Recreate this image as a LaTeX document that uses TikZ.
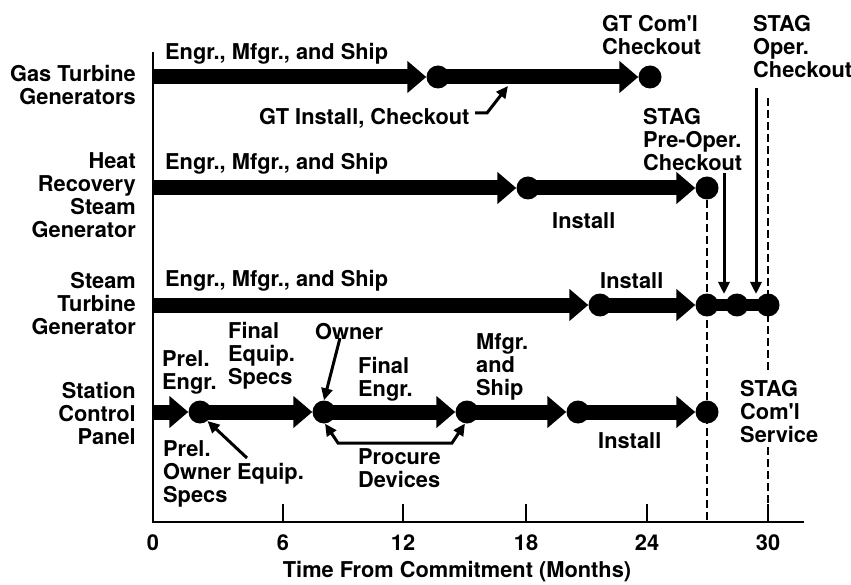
\documentclass[tikz,border=0pt]{standalone}
\usepackage{fontspec}
\setmainfont{TeX Gyre Heros}
\usetikzlibrary{arrows.meta}
\begin{document}
\begin{tikzpicture}[x=1pt,y=-1pt,
        lbl/.style={font=\bfseries\fontsize{21.8}{23}\selectfont,inner sep=0pt,align=left,anchor=north west},
        row/.style={lbl,align=right,anchor=north east},
        num/.style={font=\bfseries\fontsize{21.8}{23}\selectfont,inner sep=0pt},
        dot/.style={circle,fill=black,inner sep=0pt,minimum size=23pt},
        bar/.style={line width=15pt,-{Triangle[length=19pt,width=31pt]}},
        link/.style={line width=12pt},
        pointer/.style={line width=3pt,-{Triangle[length=12pt,width=11pt]}},
        guide/.style={line width=2.7pt,dash pattern=on 8pt off 4pt}]
        \useasboundingbox (0,0) rectangle (851,585);

        \coordinate (o) at (153,522);
        \coordinate (ytop) at (153,52);
        \coordinate (xend) at (804,522);

        \node[row] (gtlab) at (136,65) {Gas Turbine\\Generators};
        \node[row] (hrlab) at (136,152) {Heat\\Recovery\\Steam\\Generator};
        \node[row] (stlab) at (136,272) {Steam\\Turbine\\Generator};
        \node[row] (sclab) at (136,382) {Station\\Control\\Panel};

        \node[dot] (g1) at (438,77) {};
        \node[dot] (g2) at (650,77) {};
        \node[dot] (h1) at (528,188) {};
        \node[dot] (h2) at (707,188) {};
        \node[dot] (s1) at (600,305) {};
        \node[dot] (s2) at (707,305) {};
        \node[dot] (s3) at (737,305) {};
        \node[dot] (s4) at (768,305) {};
        \node[dot] (c1) at (200,412) {};
        \node[dot] (c2) at (324,412) {};
        \node[dot] (c3) at (467,412) {};
        \node[dot] (c4) at (578,412) {};
        \node[dot] (c5) at (707,412) {};

        \coordinate (gt0) at (153,77);
        \coordinate (hr0) at (153,188);
        \coordinate (st0) at (153,305);
        \coordinate (sc0) at (153,412);

        \draw[guide] (h2.center) -- (h2 |- o);
        \coordinate (svt) at (768,98);
        \coordinate (svm1) at (768,373);
        \coordinate (svm2) at (768,447);
        \draw[guide] (svt) -- (svm1) (svm2) -- (svm2 |- o);

        \draw[bar] (gt0) -- (g1.west);
        \draw[bar] (g1.center) -- (g2.west);
        \draw[bar] (hr0) -- (h1.west);
        \draw[bar] (h1.center) -- (h2.west);
        \draw[bar] (st0) -- (s1.west);
        \draw[bar] (s1.center) -- (s2.west);
        \draw[link] (s2.center) -- (s3.center) -- (s4.center);
        \draw[bar] (sc0) -- (c1.west);
        \draw[bar] (c1.center) -- (c2.west);
        \draw[bar] (c2.center) -- (c3.west);
        \draw[bar] (c3.center) -- (c4.west);
        \draw[bar] (c4.center) -- (c5.west);

        \draw[line width=2.5pt] (ytop) -- (o) -- (xend);
        \foreach \m/\x in {0/153,6/283,12/403,18/526,24/647,30/768}{
            \draw[line width=2pt] (\x,522) -- (\x,504);
            \node[num] (m\m) at (\x,543) {\m};
        }
        \node[num] (xlab) at (457,572) {Time From Commitment (Months)};

        \node[lbl] (gtship) at (165,43) {Engr., Mfgr., and Ship};
        \node[lbl] (hrship) at (165,153) {Engr., Mfgr., and Ship};
        \node[lbl] (stship) at (165,270) {Engr., Mfgr., and Ship};
        \node[lbl] (gtinst) at (259,108) {GT Install, Checkout};
        \node[lbl] (gtcom) at (602,15) {GT Com{\textquotesingle}l\\Checkout};
        \node[lbl] (oper) at (753,15) {STAG\\Oper.\\Checkout};
        \node[lbl] (preop) at (643,108) {STAG\\Pre-Oper.\\Checkout};
        \node[lbl] (hrinst) at (552,212) {Install};
        \node[lbl] (stinst) at (600,272) {Install};
        \node[lbl] (preleng) at (162,350) {Prel.\\Engr.};
        \node[lbl] (finspec) at (228,322) {Final\\Equip.\\Specs};
        \node[lbl] (owner) at (315,323) {Owner};
        \node[lbl] (fineng) at (358,357) {Final\\Engr.};
        \node[lbl] (prelown) at (163,440) {Prel.\\Owner Equip.\\Specs};
        \node[lbl] (procure) at (358,448) {Procure\\Devices};
        \node[lbl] (mfgr) at (476,333) {Mfgr.\\and\\Ship};
        \node[lbl] (scinst) at (598,432) {Install};
        \node[lbl] (service) at (740,380) {STAG\\Com{\textquotesingle}l\\Service};

        \coordinate (gtp0) at (475,113);
        \coordinate (gtp1) at (487,113);
        \coordinate (gtp2) at (508,86);
        \draw[pointer] (gtp0) -- (gtp1) -- (gtp2);
        \coordinate (popen) at (724,173);
        \coordinate (poptip) at (724,294);
        \draw[pointer] (popen) -- (poptip);
        \coordinate (openx) at (756,88);
        \coordinate (opertip) at (756,294);
        \draw[pointer] (openx) -- (opertip);
        \coordinate (ownp) at (340,338);
        \draw[pointer] (ownp) -- (c2.north);
        \coordinate (prelp) at (247,458);
        \draw[pointer] (prelp) -- (c1.-50);
        \coordinate (prc1) at (338,443);
        \coordinate (prc2) at (452,443);
        \draw[pointer,{Triangle[length=12pt,width=11pt]}-{Triangle[length=12pt,width=11pt]}] (c2.-85) -- (prc1) -- (prc2) -- (c3.-100);
    \end{tikzpicture}
\end{document}
